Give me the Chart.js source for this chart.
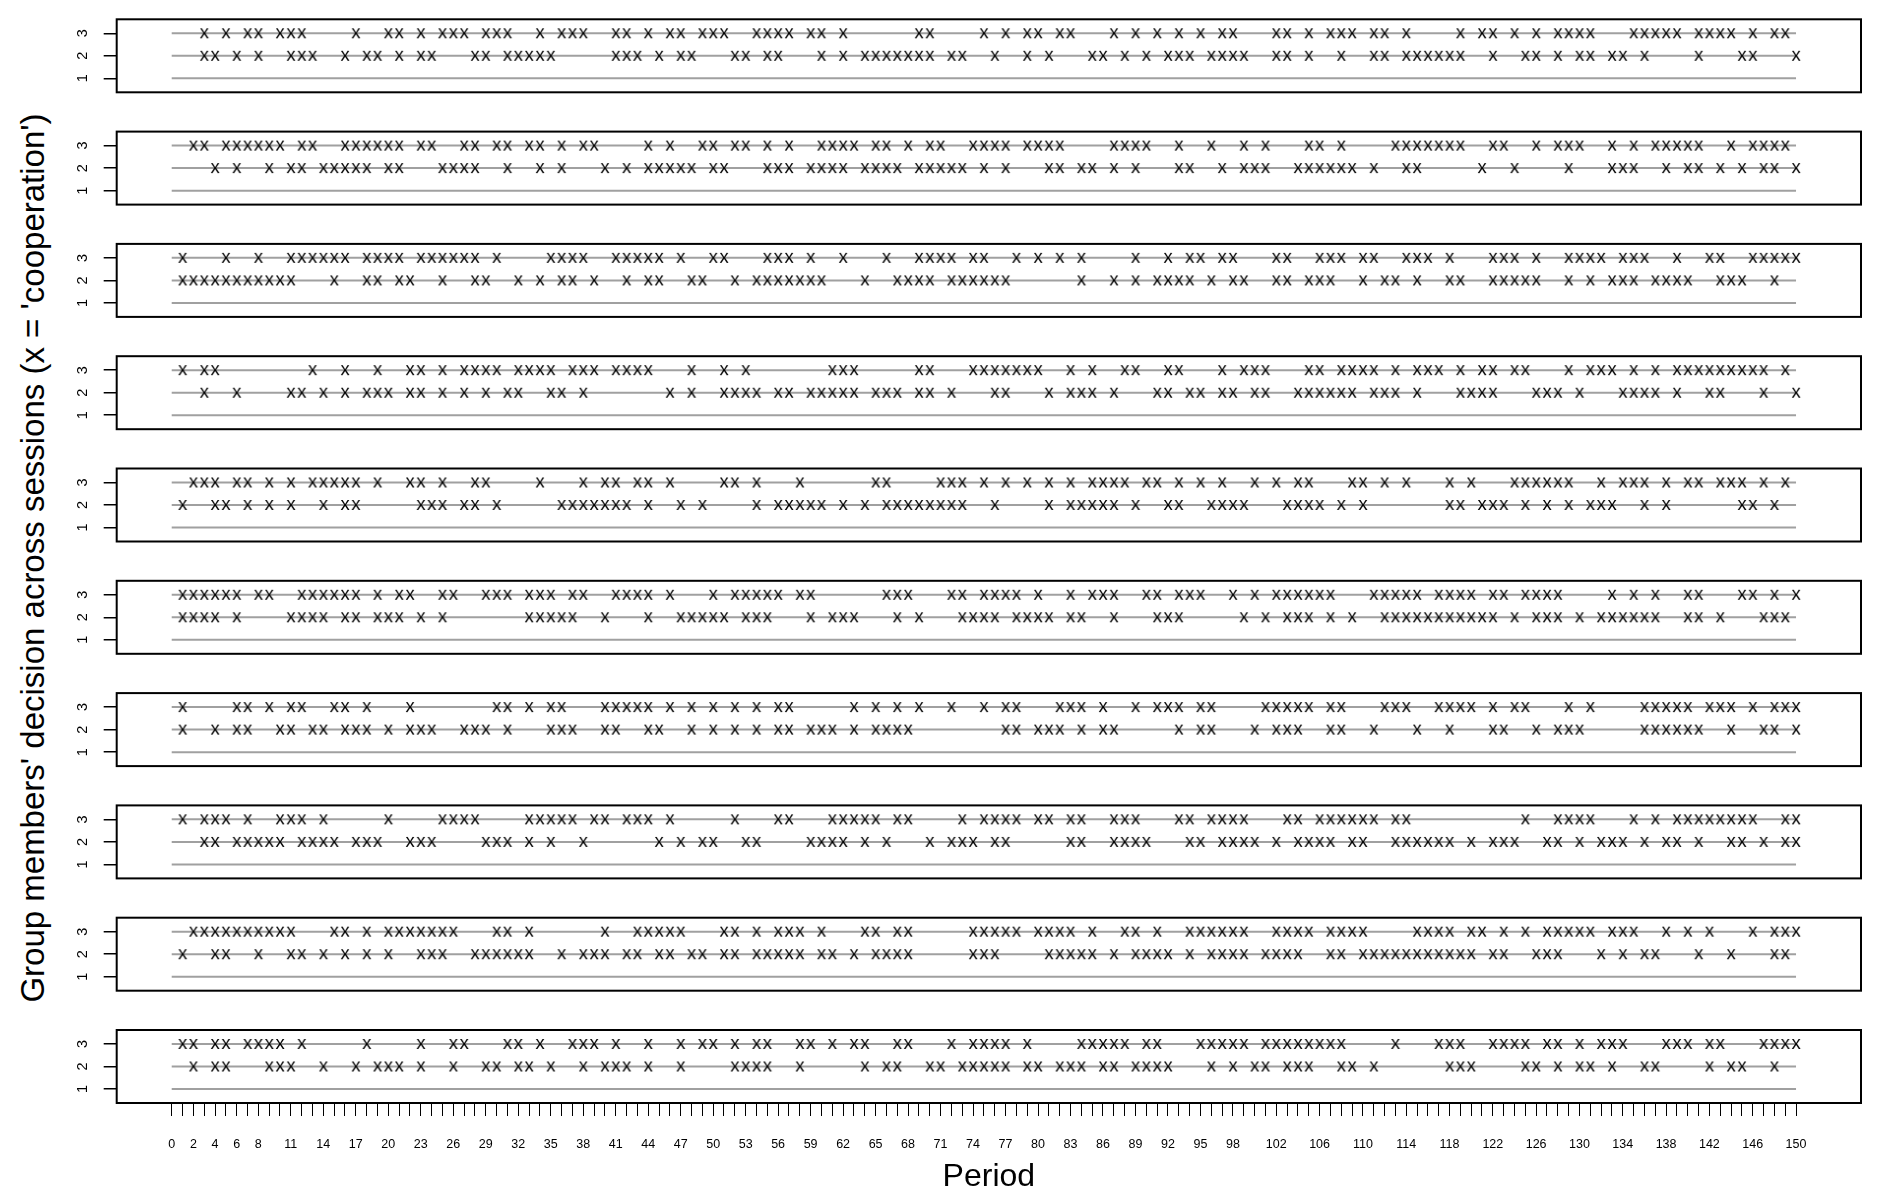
<!DOCTYPE html>
<html><head><meta charset="utf-8">
<script src="https://cdn.jsdelivr.net/npm/chart.js@4.4.1/dist/chart.umd.min.js"></script>
<style>
html,body{margin:0;padding:0;background:#fff;}
body{width:1900px;height:1200px;position:relative;overflow:hidden;font-family:"Liberation Sans",Arial,sans-serif;}
canvas.panel{position:absolute;left:0;}
#ytitle{position:absolute;left:33px;top:558px;transform:translate(-50%,-50%) rotate(-90deg);white-space:nowrap;font-size:33px;color:#000;}
</style></head><body>
<div id="ytitle">Group members' decision across sessions (x = 'cooperation')</div>
<script>
// ---- data ----
const xTickLabels = [0,2,4,6,8,11,14,17,20,23,26,29,32,35,38,41,44,47,50,53,56,59,62,65,68,71,74,77,80,83,86,89,92,95,98,102,106,110,114,118,122,126,130,134,138,142,146,150];
const memberLevels = [1,2,3];
const periodFirst = 0, periodLast = 150;

// periods in which member 3 / member 2 cooperated, per session
const s1_m3 = [3,5,7,8,10,11,12,17,20,21,23,25,26,27,29,30,31,34,36,37,38,41,42,44,46,47,49,50,51,54,55,56,57,59,60,62,69,70,75,77,79,80,82,83,87,89,91,93,95,97,98,102,103,105,107,108,109,111,112,114,119,121,122,124,126,128,129,130,131,135,136,137,138,139,141,142,143,144,146,148,149];
const s1_m2 = [3,4,6,8,11,12,13,16,18,19,21,23,24,28,29,31,32,33,34,35,41,42,43,45,47,48,52,53,55,56,60,62,64,65,66,67,68,69,70,72,73,76,79,81,85,86,88,90,92,93,94,96,97,98,99,102,103,105,108,111,112,114,115,116,117,118,119,122,125,126,128,130,131,133,134,136,141,145,146,150];
const s2_m3 = [2,3,5,6,7,8,9,10,12,13,16,17,18,19,20,21,23,24,27,28,30,31,33,34,36,38,39,44,46,49,50,52,53,55,57,60,61,62,63,65,66,68,70,71,74,75,76,77,79,80,81,82,87,88,89,90,93,96,99,101,105,106,108,113,114,115,116,117,118,119,122,123,126,128,129,130,133,135,137,138,139,140,141,144,146,147,148,149];
const s2_m2 = [4,6,9,11,12,14,15,16,17,18,20,21,25,26,27,28,31,34,36,40,42,44,45,46,47,48,50,51,55,56,57,59,60,61,62,64,65,66,67,69,70,71,72,73,75,77,81,82,84,85,87,89,93,94,97,99,100,101,104,105,106,107,108,109,111,114,115,121,124,129,133,134,135,138,140,141,143,145,147,148,150];
const s3_m3 = [1,5,8,11,12,13,14,15,16,18,19,20,21,23,24,25,26,27,28,30,35,36,37,38,41,42,43,44,45,47,50,51,55,56,57,59,62,66,69,70,71,72,74,75,78,80,82,84,89,92,94,95,97,98,102,103,106,107,108,110,111,114,115,116,118,122,123,124,126,129,130,131,132,134,135,136,139,142,143,146,147,148,149,150];
const s3_m2 = [1,2,3,4,5,6,7,8,9,10,11,15,18,19,21,22,25,28,29,32,34,36,37,39,42,44,45,48,49,52,54,55,56,57,58,59,60,64,67,68,69,70,72,73,74,75,76,77,84,87,89,91,92,93,94,96,98,99,102,103,105,106,107,110,112,113,115,118,119,122,123,124,125,126,129,131,133,134,135,137,138,139,140,143,144,145,148];
const s4_m3 = [1,3,4,13,16,19,22,23,25,27,28,29,30,32,33,34,35,37,38,39,41,42,43,44,48,51,53,61,62,63,69,70,74,75,76,77,78,79,80,83,85,88,89,92,93,97,99,100,101,105,106,108,109,110,111,113,115,116,117,119,121,122,124,125,129,131,132,133,135,137,139,140,141,142,143,144,145,146,147,149];
const s4_m2 = [3,6,11,12,14,16,18,19,20,22,23,25,27,29,31,32,35,36,38,46,48,51,52,53,54,56,57,59,60,61,62,63,65,66,67,69,70,72,76,77,81,83,84,85,87,91,92,94,95,97,98,100,101,104,105,106,107,108,109,111,112,113,115,119,120,121,122,126,127,128,130,134,135,136,137,139,142,143,147,150];
const s5_m3 = [2,3,4,6,7,9,11,13,14,15,16,17,19,22,23,25,28,29,34,38,40,41,43,44,46,51,52,54,58,65,66,71,72,73,75,77,79,81,83,85,86,87,88,90,91,93,95,97,100,102,104,105,109,110,112,114,118,120,124,125,126,127,128,129,132,134,135,136,138,140,141,143,144,145,147,149];
const s5_m2 = [1,4,5,7,9,11,14,16,17,23,24,25,27,28,30,36,37,38,39,40,41,42,44,47,49,54,56,57,58,59,60,62,64,66,67,68,69,70,71,72,73,76,81,83,84,85,86,87,89,92,93,96,97,98,99,103,104,105,106,108,110,118,119,121,122,123,125,127,129,131,132,133,136,138,145,146,148];
const s6_m3 = [1,2,3,4,5,6,8,9,12,13,14,15,16,17,19,21,22,25,26,29,30,31,33,34,35,37,38,41,42,43,44,46,50,52,53,54,55,56,58,59,66,67,68,72,73,75,76,77,78,80,83,85,86,87,90,91,93,94,95,98,100,102,103,104,105,106,107,111,112,113,114,115,117,118,119,120,122,123,125,126,127,128,133,135,137,140,141,145,146,148,150];
const s6_m2 = [1,2,3,4,6,11,12,13,14,16,17,19,20,21,23,25,33,34,35,36,37,40,44,47,48,49,50,51,53,54,55,59,61,62,63,67,69,73,74,75,76,78,79,80,81,83,84,87,91,92,93,99,101,103,104,105,107,109,112,113,114,115,116,117,118,119,120,121,122,124,126,127,128,130,132,133,134,135,136,137,140,141,143,147,148,149];
const s7_m3 = [1,6,7,9,11,12,15,16,18,22,30,31,33,35,36,40,41,42,43,44,46,48,50,52,54,56,57,63,65,67,69,72,75,77,78,82,83,84,86,89,91,92,93,95,96,101,102,103,104,105,107,108,112,113,114,117,118,119,120,122,124,125,129,131,136,137,138,139,140,142,143,144,146,148,149,150];
const s7_m2 = [1,4,6,7,10,11,13,14,16,17,18,20,22,23,24,27,28,29,31,35,36,37,40,41,44,45,48,50,52,54,56,57,59,60,61,63,65,66,67,68,77,78,80,81,82,84,86,87,93,95,96,100,102,103,104,107,108,111,115,118,122,123,126,128,129,130,136,137,138,139,140,141,144,147,148,150];
const s8_m3 = [1,3,4,5,7,10,11,12,14,20,25,26,27,28,33,34,35,36,37,39,40,42,43,44,46,52,56,57,61,62,63,64,65,67,68,73,75,76,77,78,80,81,83,84,87,88,89,93,94,96,97,98,99,103,104,106,107,108,109,110,111,113,114,125,128,129,130,131,135,137,139,140,141,142,143,144,145,146,149,150];
const s8_m2 = [3,4,6,7,8,9,10,12,13,14,15,17,18,19,22,23,24,29,30,31,33,35,38,45,47,49,50,53,54,59,60,61,62,64,66,70,72,73,74,76,77,83,84,87,88,89,90,94,95,97,98,99,100,102,104,105,106,107,109,110,113,114,115,116,117,118,120,122,123,124,127,128,130,132,133,134,136,138,139,141,144,145,147,149,150];
const s9_m3 = [2,3,4,5,6,7,8,9,10,11,15,16,18,20,21,22,23,24,25,26,30,31,33,40,43,44,45,46,47,51,52,54,56,57,58,60,64,65,67,68,74,75,76,77,78,80,81,82,83,85,88,89,91,94,95,96,97,98,99,102,103,104,105,107,108,109,110,115,116,117,118,120,121,123,125,127,128,129,130,131,133,134,135,138,140,142,146,148,149,150];
const s9_m2 = [1,4,5,8,11,12,14,16,18,20,23,24,25,28,29,30,31,32,33,36,38,39,40,42,43,45,46,48,49,51,52,54,55,56,57,58,60,61,63,65,66,67,68,74,75,76,81,82,83,84,85,87,89,90,91,92,94,96,97,98,99,101,102,103,104,107,108,110,111,112,113,114,115,116,117,118,119,120,122,123,126,127,128,132,134,136,137,141,144,148,149];
const s10_m3 = [1,2,4,5,7,8,9,10,12,18,23,26,27,31,32,34,37,38,39,41,44,47,49,50,52,54,55,58,59,61,63,64,67,68,72,74,75,76,77,79,84,85,86,87,88,90,91,95,96,97,98,99,101,102,103,104,105,106,107,108,113,117,118,119,122,123,124,125,127,128,130,132,133,134,138,139,140,142,143,147,148,149,150];
const s10_m2 = [2,4,5,9,10,11,14,17,19,20,21,23,26,29,30,32,33,35,38,40,41,42,44,47,52,53,54,55,58,64,66,67,70,71,73,74,75,76,77,79,80,82,83,84,86,87,89,90,91,92,96,98,100,101,103,104,105,108,109,111,118,119,120,125,126,128,130,131,133,136,137,142,144,145,148];

const sessions = [
  [s1_m2, s1_m3],[s2_m2, s2_m3],[s3_m2, s3_m3],[s4_m2, s4_m3],[s5_m2, s5_m3],
  [s6_m2, s6_m3],[s7_m2, s7_m3],[s8_m2, s8_m3],[s9_m2, s9_m3],[s10_m2, s10_m3]
];

// ---- layout ----
Chart.defaults.font.family = '"Liberation Sans", Arial, sans-serif';
Chart.defaults.color = '#000';
const BOX_L = 116.7, BOX_R = 1861, BOX_H = 73, TOP0 = 19.3, STEP = 112.3, PAD = 10;
const X_MIN = -5.08, X_MAX = 156, Y_MIN = 0.38, Y_MAX = 3.62;

function makeGlyph(){
  const c = document.createElement('canvas'); c.width = 22; c.height = 22;
  const g = c.getContext('2d');
  g.fillStyle = '#000'; g.font = '18.5px "Liberation Sans"';
  g.textAlign = 'center'; g.textBaseline = 'alphabetic';
  g.fillText('x', 11, 11 + 4.8);
  return c;
}
const glyph = makeGlyph();

const boxPlugin = {id:'box', afterDraw(chart){
  const {ctx, chartArea:a} = chart;
  ctx.save(); ctx.strokeStyle = '#000'; ctx.lineWidth = 2;
  ctx.strokeRect(a.left, a.top, a.right - a.left, a.bottom - a.top);
  ctx.restore();
}};

const tickValues = [];
for (let v = periodFirst; v <= periodLast; v++) tickValues.push(v);

sessions.forEach(([m2, m3], k) => {
  const last = k === sessions.length - 1;
  const boxTop = TOP0 + STEP * k;
  const cTop = Math.floor(boxTop) - PAD;
  const padTop = boxTop - cTop;
  const h = last ? 1200 - cTop : Math.ceil(padTop + BOX_H + PAD);
  const padBottom = last ? 0 : h - padTop - BOX_H;
  const axisH = 1200 - (cTop + padTop + BOX_H);
  const cv = document.createElement('canvas');
  cv.className = 'panel'; cv.width = 1900; cv.height = h;
  cv.style.top = cTop + 'px';
  document.body.appendChild(cv);

  const datasets = [
    {data: m3.map(p => ({x:p, y:3})), pointStyle: glyph, pointRadius: 5, showLine:false},
    {data: m2.map(p => ({x:p, y:2})), pointStyle: glyph, pointRadius: 5, showLine:false},
    ...memberLevels.map(lv => ({data:[{x:periodFirst,y:lv},{x:periodLast,y:lv}], showLine:true,
        borderColor:'#a0a0a0', borderWidth:2, pointRadius:0, fill:false}))
  ];

  new Chart(cv, {
    type:'scatter',
    data:{datasets},
    options:{
      responsive:false, animation:false, events:[],
      layout:{padding:{left:0, right:1900 - BOX_R, top:padTop, bottom:padBottom}},
      plugins:{legend:{display:false}, tooltip:{enabled:false}},
      scales:{
        x:{type:'linear', min:X_MIN, max:X_MAX, display:last,
           afterBuildTicks: s => { s.ticks = tickValues.map(v => ({value:v})); },
           afterFit: s => { if (last) { s.height = axisH; s.paddingLeft = 0; s.paddingRight = 0; } },
           ticks:{autoSkip:false, maxRotation:0, minRotation:0, padding:21, color:'#000',
                  font:{size:12.5}, callback: v => xTickLabels.includes(v) ? String(v) : ''},
           grid:{drawOnChartArea:false, drawTicks:true, tickLength:13, color:'#000', lineWidth:1},
           border:{display:false},
           title:{display:true, text:'Period', color:'#000', font:{size:32}, padding:{top:0, bottom:4}}
        },
        y:{type:'linear', min:Y_MIN, max:Y_MAX,
           afterBuildTicks: s => { s.ticks = memberLevels.map(v => ({value:v})); },
           afterFit: s => { s.width = BOX_L; s.paddingTop = 0; s.paddingBottom = 0; },
           ticks:{autoSkip:false, minRotation:90, maxRotation:90, crossAlign:'center', padding:17, color:'#000', font:{size:14.5}},
           grid:{drawOnChartArea:false, drawTicks:true, tickLength:13, color:'#000', lineWidth:1.5},
           border:{display:false}
        }
      }
    },
    plugins:[boxPlugin]
  });
});
</script>
</body></html>
